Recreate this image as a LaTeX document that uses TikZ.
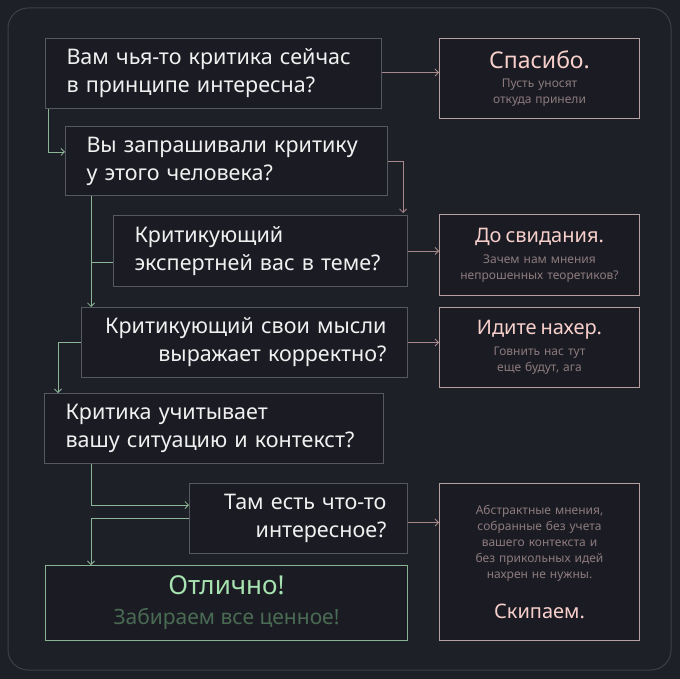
\documentclass[tikz,border=0pt]{standalone}
\usepackage{fontspec}
\setmainfont{Noto Sans}
\usetikzlibrary{arrows.meta,calc}
\definecolor{bgc}{HTML}{1E2028}
\definecolor{boxfill}{HTML}{1B1C23}
\definecolor{framec}{HTML}{3D4048}
\definecolor{qborder}{HTML}{55585F}
\definecolor{qtext}{HTML}{F0F0F0}
\definecolor{greenline}{HTML}{8DB597}
\definecolor{goodborder}{HTML}{86B592}
\definecolor{goodtitle}{HTML}{A6E3B0}
\definecolor{goodsub}{HTML}{4A6B53}
\definecolor{pinkline}{HTML}{A8898B}
\definecolor{pinkborder}{HTML}{B7A0A0}
\definecolor{pinktitle}{HTML}{F7CFCB}
\definecolor{pinksub}{HTML}{8C7A7D}
\newcommand{\ttl}{\fontsize{20}{24}\selectfont\color{pinktitle}}
\begin{document}
\begin{tikzpicture}[x=1pt,y=-1pt,
  qbox/.style={draw=qborder, fill=boxfill, line width=1pt, anchor=north west,
    inner xsep=21pt, inner ysep=0pt, text=qtext,
    font=\fontsize{21.5}{28}\selectfont},
  rbox/.style={draw=pinkborder, fill=boxfill, line width=1pt, anchor=north west,
    inner sep=0pt, minimum width=200pt, text width=196pt, align=center,
    text=pinksub, font=\fontsize{12}{16}\selectfont},
  gbox/.style={draw=goodborder, fill=boxfill, line width=1pt, anchor=north west,
    inner sep=0pt, align=center, font=\fontsize{21}{30}\selectfont},
  garrow/.style={draw=greenline, line width=0.8pt, -{Straight Barb[length=3.5pt,width=7pt]}},
  gline/.style={draw=greenline, line width=0.8pt},
  parrow/.style={draw=pinkline, line width=0.8pt, -{Straight Barb[length=3.5pt,width=7pt]}},
]
\fill[bgc] (0,0) rectangle (680,679);
\draw[framec, line width=1pt, rounded corners=20pt] (8,8) rectangle (671,670);

\node[qbox, minimum width=336pt, minimum height=70pt, text width=294pt, align=left] (q1) at (45,38)
  {Вам чья-то критика сейчас\\в принципе интересна?};
\node[qbox, minimum width=322pt, minimum height=69pt, text width=280pt, align=left] (q2) at (65,126)
  {Вы запрашивали критику\\у этого человека?};
\node[qbox, minimum width=294pt, minimum height=71pt, text width=252pt, align=left] (q3) at (113,215)
  {Критикующий\\экспертней вас в теме?};
\node[qbox, minimum width=326pt, minimum height=70pt, text width=284pt, align=right] (q4) at (81,307)
  {Критикующий свои мысли\\выражает корректно?};
\node[qbox, minimum width=339pt, minimum height=70pt, text width=297pt, align=left] (q5) at (44,393)
  {Критика учитывает\\вашу ситуацию и контекст?};
\node[qbox, minimum width=218pt, minimum height=70pt, text width=176pt, align=right] (q6) at (189,483)
  {Там есть что-то\\интересное?};
\node[gbox, minimum width=362pt, minimum height=75pt] (good) at (45,565)
  {{\fontsize{26}{30}\selectfont\color{goodtitle}Отлично!}\\
   {\fontsize{21}{30}\selectfont\color{goodsub}Забираем все ценное!}};

\node[rbox, minimum height=80pt] (r1) at (439,38)
  {{\fontsize{23}{26}\selectfont\color{pinktitle}Спасибо.}\\[3pt]Пусть уносят\\откуда принели};
\node[rbox, minimum height=81pt] (r2) at (439,214)
  {{\ttl До свидания.}\\[5pt]Зачем нам мнения\\непрошенных теоретиков?};
\node[rbox, minimum height=80pt] (r3) at (439,307)
  {{\ttl Идите нахер.}\\[5pt]Говнить нас тут\\еще будут, ага};
\node[rbox, minimum height=157pt] (r4) at (439,483)
  {Абстрактные мнения,\\собранные без учета\\вашего контекста и\\без прикольных идей\\нахрен не нужны.\\[21pt]{\ttl Скипаем.}};

% pink connectors
\draw[parrow] ([yshift=1pt]q1.east) -- ([yshift=1pt]q1.east -| r1.west);
\draw[parrow] (q2.east) -| ($(q3.north east)+(-5,-2)$);
\draw[parrow] (q3.east) -- (q3.east -| r2.west);
\draw[parrow] (q4.east) -- (q4.east -| r3.west);
\draw[parrow] ([yshift=-4pt]q6.east) -- ([yshift=-4pt]q6.east -| r4.west);

% green connectors
\draw[garrow] ($(q1.south west)+(3,0)$) |- ($(q2.north west)+(0,26)$);
\draw[garrow] ($(q2.south west)+(26,0)$) -- ($(q4.north west)+(10,0)$);
\draw[gline] ($(q3.north west)+(0,47)$) -- ++(-22,0);
\draw[garrow] (q4.west) -| ($(q5.north west)+(14,0)$);
\draw[garrow] ($(q5.south west)+(47,0)$) |- ($(q6.north west)+(0,22)$);
\draw[garrow] (q6.west) -| ($(good.north west)+(46,0)$);
\end{tikzpicture}
\end{document}
